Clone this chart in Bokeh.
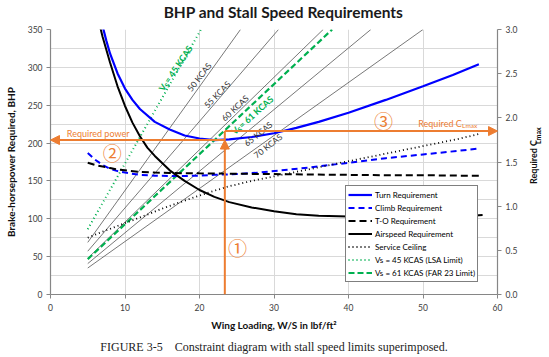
import math
from bokeh.plotting import figure
from bokeh.layouts import row, column
from bokeh.models import (Range1d, LinearAxis, FixedTicker, PrintfTickFormatter,
                          Legend, LegendItem, Arrow, NormalHead, Title)
from bokeh.core.properties import value
from bokeh.embed import file_html
from bokeh.resources import INLINE

# ---------------- data ----------------
ws_ticks = [0, 10, 20, 30, 40, 50, 60]
bhp_ticks = [0, 50, 100, 150, 200, 250, 300, 350]
bhp_grid = [0, 25, 50, 75, 100, 125, 150, 175, 200, 225, 250, 275, 300, 325, 350]
cl_ticks = [0.0, 0.5, 1.0, 1.5, 2.0, 2.5, 3.0]

turn_ws = [6.9, 7.5, 8, 9, 10, 11, 12, 14, 16, 18, 20, 22, 24, 27, 30, 33, 36, 40, 45, 50, 54, 57.5]
turn_bhp = [358, 335, 318, 292, 272, 257, 245, 228, 218, 210, 206, 204, 205, 208, 213, 220, 228, 240, 257, 275, 290, 304]

climb_ws = [5, 6, 7, 8, 9, 10, 12, 14, 16, 18, 20, 22, 25, 28, 31, 35, 40, 45, 50, 55, 57.5]
climb_bhp = [187, 178, 171, 166, 163, 161, 158, 157, 156.5, 156.5, 157, 158, 159, 161, 164, 168, 174, 180, 185, 190, 193]

to_ws = [5, 6, 7, 8, 9, 10, 12, 14, 16, 20, 25, 30, 35, 40, 45, 50, 55, 58]
to_bhp = [174, 171, 169, 167, 165, 164, 162, 161, 160.5, 160, 159.5, 159, 158.5, 158, 157.5, 157.5, 157, 157]

air_ws = [6.5, 7, 8, 9, 10, 11, 12, 13, 14, 16, 18, 20, 22, 24, 27, 30, 33, 36, 40, 45, 50, 55, 58]
air_bhp = [360, 340, 306, 275, 249, 227, 209, 194, 183, 164, 150, 138, 129, 122, 115, 110, 106, 104, 103, 102, 102, 103, 105]

ceil_ws = [5, 7, 9, 11, 13, 15, 18, 21, 24, 27, 30, 33, 36, 40, 45, 50, 55, 57.5]
ceil_bhp = [75, 83, 90.5, 98, 105.5, 113.5, 124, 134, 143, 150, 156, 162, 168, 176, 186, 196, 206, 212]

stall_kcas = [45, 50, 55, 60, 61, 65, 70]
stall_ws0 = [5, 5, 5, 5, 5, 5, 5]
stall_ws1 = [20.2, 25.5, 30.6, 36.6, 37.8, 43.0, 50.0]
stall_cl0 = [0.74, 0.59, 0.49, 0.41, 0.40, 0.35, 0.30]
stall_cl1 = [3.0, 3.0, 3.0, 3.0, 3.0, 3.0, 3.0]

design_ws = 23.4
req_bhp = 204
req_clmax = 1.85

# ---------------- styling ----------------
BLUE = "#0000FF"
GREEN = "#00B050"
ORANGE = "#ED7D31"
GREY = "#555555"
FONT = "Lato"

W, H = 549, 357
TOP = 25          # title strip height
PTOP = 4          # main chart top border (frame top at TOP + PTOP = 29)
X0, X1, Y0, Y1, CL1 = 0, 60, 0, 350, 3.0
FW, FH = 447, 266   # frame size in px
PX_X = FW / (X1 - X0)
PX_Y = FH / (Y1 - Y0)

def strip(width, height):
    f = figure(width=width, height=height, x_range=Range1d(0, width), y_range=Range1d(0, height),
               output_backend="svg", toolbar_location=None, title=None,
               x_axis_type=None, y_axis_type=None,
               min_border=0, min_border_left=0, min_border_right=0,
               min_border_top=0, min_border_bottom=0,
               outline_line_color=None, background_fill_color="white")
    return f

# ---------------- title strip ----------------
pt = strip(W, TOP)
pt.text([283], [TOP - 11], text=["BHP and Stall Speed Requirements"], text_align="center",
        text_baseline="middle", text_font=value(FONT), text_font_style="bold",
        text_font_size="15.5px", text_color="#1a1a1a")

# ---------------- main chart ----------------
PW = 522
p = figure(width=PW, height=H - TOP, x_range=Range1d(X0, X1), y_range=Range1d(Y0, Y1),
           output_backend="svg", toolbar_location=None, title=None,
           min_border_left=50, min_border_right=PW - 50 - FW, min_border_top=PTOP,
           min_border_bottom=62, outline_line_color=None, background_fill_color="white")
p.extra_y_ranges = {"cl": Range1d(0, CL1)}

right = LinearAxis(y_range_name="cl")
p.add_layout(right, "right")

p.xaxis.ticker = FixedTicker(ticks=ws_ticks)
p.yaxis[0].ticker = FixedTicker(ticks=bhp_ticks)
right.ticker = FixedTicker(ticks=cl_ticks)
right.formatter = PrintfTickFormatter(format="%.1f")

for ax in [p.xaxis[0], p.yaxis[0], right]:
    ax.axis_line_color = "#868686"
    ax.axis_line_width = 1.2
    ax.major_tick_line_color = "#868686"
    ax.major_tick_in = 0
    ax.major_tick_out = 4
    ax.minor_tick_line_color = None
    ax.major_label_text_font = FONT
    ax.major_label_text_font_size = "8.5px"
    ax.major_label_text_color = "#404040"
    ax.major_label_standoff = 4
    ax.axis_label_text_font = FONT
    ax.axis_label_text_font_style = "bold"
    ax.axis_label_text_font_size = "10px"
    ax.axis_label_text_color = "#111111"

p.xaxis.axis_label = "Wing Loading, W/S in lbf/ft\u00b2"
p.xaxis.major_label_standoff = 5
p.xaxis.axis_label_standoff = 5
p.yaxis[0].axis_label = "Brake-horsepower Required, BHP"
p.yaxis[0].axis_label_standoff = 8

p.xgrid.ticker = FixedTicker(ticks=ws_ticks)
p.ygrid.ticker = FixedTicker(ticks=bhp_grid)
p.xgrid.grid_line_color = "#D9D9D9"
p.ygrid.grid_line_color = "#D9D9D9"

# caption below the x-axis title
cap = Title(text="FIGURE 3-5\u00a0\u00a0\u00a0\u00a0Constraint diagram with stall speed limits superimposed.",
            align="center", text_font="Liberation Serif", text_font_size="12px",
            text_font_style="normal", text_color="#222222", standoff=8)
p.add_layout(cap, "below")

# ---------------- stall speed lines ----------------
stall_r = {}
for k, a0, a1, c0, c1 in zip(stall_kcas, stall_ws0, stall_ws1, stall_cl0, stall_cl1):
    if k == 45:
        r = p.line([a0, a1], [c0, c1], y_range_name="cl", line_color=GREEN, line_width=2, line_dash="1 3")
    elif k == 61:
        r = p.line([a0, a1], [c0, c1], y_range_name="cl", line_color=GREEN, line_width=2.2, line_dash="6 3")
    else:
        r = p.line([a0, a1], [c0, c1], y_range_name="cl", line_color=GREY, line_width=0.8)
    stall_r[k] = r

# ---------------- requirement curves ----------------
r_turn = p.line(turn_ws, turn_bhp, line_color=BLUE, line_width=2.2)
r_climb = p.line(climb_ws, climb_bhp, line_color=BLUE, line_width=2, line_dash="6 4")
r_to = p.line(to_ws, to_bhp, line_color="black", line_width=2, line_dash="7 4")
r_air = p.line(air_ws, air_bhp, line_color="black", line_width=2)
r_ceil = p.line(ceil_ws, ceil_bhp, line_color="black", line_width=1.8, line_dash="1 3")

# ---------------- rotated labels on stall lines ----------------
def shift(x, y, d_px, perp_px, theta):
    dx = d_px * math.cos(theta) + perp_px * math.sin(theta)
    dy = d_px * math.sin(theta) - perp_px * math.cos(theta)
    return x + dx / PX_X, y + dy / PX_Y

def kcas_label(txt, x, y, deg):
    p.text([x], [y], text=[txt], angle=math.radians(deg), text_align="center",
           text_baseline="middle", text_font=value(FONT), text_font_size="8.5px",
           text_color="#333333")

kcas_label("50 KCAS", 20.0, 287, 52)
kcas_label("55 KCAS", 22.4, 264, 46)
kcas_label("60 KCAS", 24.8, 246, 43)
kcas_label("65 KCAS", 27.9, 212, 39)
kcas_label("70 KCAS", 29.2, 196, 38)

def vs_label(num, x, y, deg):
    th = math.radians(deg)
    L = 53.0
    sx, sy = shift(x, y, -L / 2, 0, th)
    kw = dict(angle=th, text_align="left", text_baseline="middle", text_font=value(FONT),
              text_font_style="bold", text_color=GREEN)
    p.text([sx], [sy], text=["V"], text_font_size="9px", **kw)
    bx, by = shift(sx, sy, 5.8, 2.5, th)
    p.text([bx], [by], text=["S"], text_font_size="6.5px", **kw)
    cx, cy = shift(sx, sy, 9.6, 0, th)
    p.text([cx], [cy], text=[" = %d KCAS" % num], text_font_size="9px", **kw)

vs_label(45, 16.8, 299, 56)
vs_label(61, 27.1, 237, 42)

# ---------------- orange annotations ----------------
bhp_at_cl = req_clmax * Y1 / CL1
p.line([design_ws, design_ws], [req_bhp, bhp_at_cl], line_color=ORANGE, line_width=2)
p.add_layout(Arrow(end=NormalHead(size=9, fill_color=ORANGE, line_color=ORANGE),
                   x_start=design_ws, y_start=0, x_end=design_ws, y_end=req_bhp,
                   line_color=ORANGE, line_width=2))
p.add_layout(Arrow(end=NormalHead(size=9, fill_color=ORANGE, line_color=ORANGE),
                   x_start=design_ws, y_start=req_bhp, x_end=X0, y_end=req_bhp,
                   line_color=ORANGE, line_width=2))
p.add_layout(Arrow(end=NormalHead(size=9, fill_color=ORANGE, line_color=ORANGE),
                   x_start=design_ws, y_start=req_clmax, x_end=X1, y_end=req_clmax,
                   y_range_name="cl", line_color=ORANGE, line_width=2))

p.text([6.4], [212], text=["Required power"], text_align="center", text_baseline="middle",
       text_font=value(FONT), text_font_size="9px", text_color=ORANGE)
p.text([55.2], [226], text=["Required C"], text_align="right", text_baseline="middle",
       text_font=value(FONT), text_font_size="9px", text_color=ORANGE)
p.text([55.25], [223], text=["Lmax"], text_align="left", text_baseline="middle",
       text_font=value(FONT), text_font_size="6.5px", text_color=ORANGE)

p.text([25.1, 8.3, 44.7], [62, 188, 230], text=["\u2460", "\u2461", "\u2462"],
       text_align="center", text_baseline="middle", text_font=value("Noto Sans CJK JP"),
       text_font_size="19px", text_color=ORANGE)

# ---------------- legend ----------------
legend = Legend(items=[
    LegendItem(label="Turn Requirement", renderers=[r_turn]),
    LegendItem(label="Climb Requirement", renderers=[r_climb]),
    LegendItem(label="T-O Requirement", renderers=[r_to]),
    LegendItem(label="Airspeed Requirement", renderers=[r_air]),
    LegendItem(label="Service Ceiling", renderers=[r_ceil]),
    LegendItem(label="Vs = 45 KCAS (LSA Limit)", renderers=[stall_r[45]]),
    LegendItem(label="Vs = 61 KCAS (FAR 23 Limit)", renderers=[stall_r[61]]),
], location=(295, 12))
legend.margin = 0
legend.padding = 2
legend.spacing = 0
legend.label_height = 13
legend.glyph_height = 13
legend.glyph_width = 24
legend.label_standoff = 3
legend.label_text_font = FONT
legend.label_text_font_size = "8px"
legend.label_text_color = "black"
legend.border_line_color = "black"
legend.border_line_width = 1
legend.background_fill_alpha = 1
p.add_layout(legend)

# ---------------- right-hand axis title (reads bottom-to-top, with subscript) ----------------
SW = W - PW
SH = H - TOP
ps = strip(SW, SH)
# y measured upward from the bottom of the page
ps.text([11], [H - 191], text=["Required C"], angle=math.pi / 2, text_align="center",
        text_baseline="middle", text_font=value(FONT), text_font_style="bold",
        text_font_size="9px", text_color="#111111")
ps.text([15], [H - 158], text=["Lmax"], angle=math.pi / 2, text_align="center",
        text_baseline="middle", text_font=value(FONT), text_font_style="bold",
        text_font_size="7px", text_color="#111111")

layout = column(pt, row(p, ps, spacing=0), spacing=0)
open("out.html", "w").write(file_html(layout, INLINE))
